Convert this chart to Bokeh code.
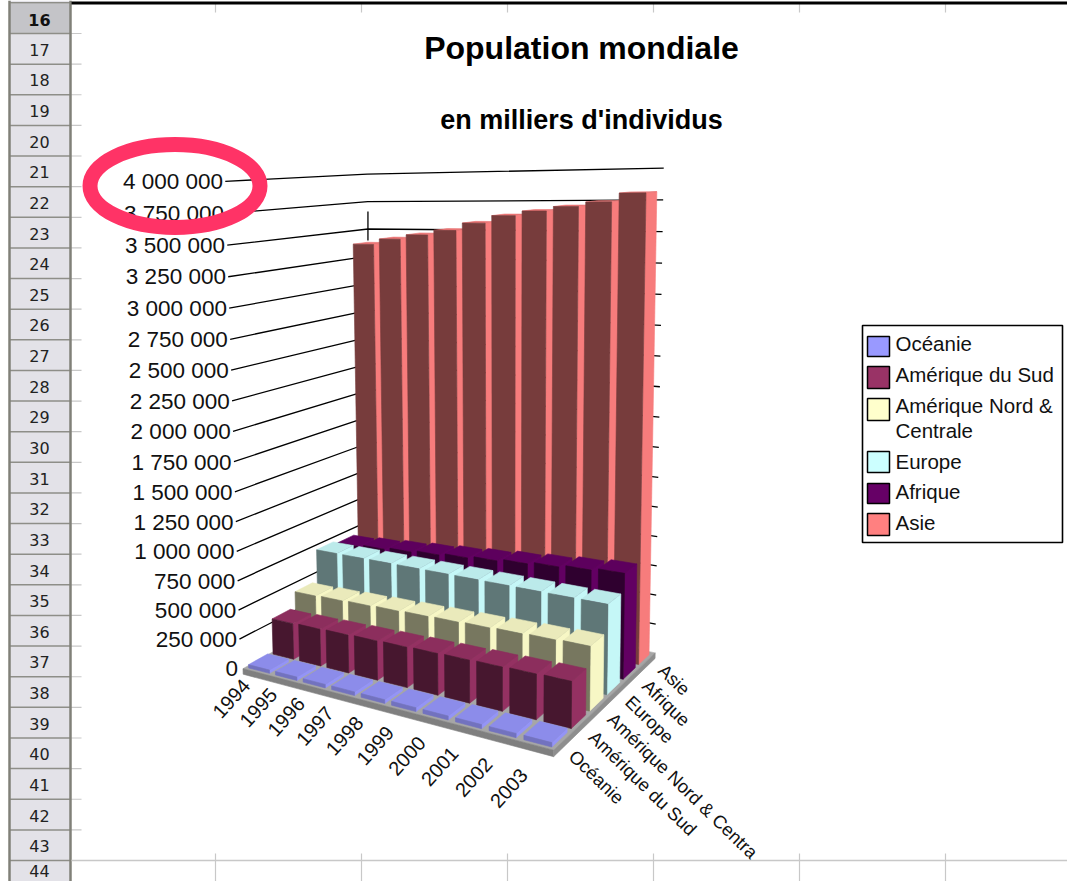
import numpy as np
from bokeh.plotting import figure
from bokeh.models import Range1d, ColumnDataSource
from bokeh.core.properties import value
from bokeh.embed import file_html
from bokeh.resources import INLINE

# ---------- data (thousands of people) ----------
years = ["1994","1995","1996","1997","1998","1999","2000","2001","2002","2003"]
series = ["Océanie","Amérique du Sud","Amérique Nord & Centrale","Europe","Afrique","Asie"]
axis_series_labels = ["Océanie","Amérique du Sud","Amérique Nord & Centra","Europe","Afrique","Asie"]
oceanie  = [28,29,29,30,30,31,31,32,32,33]
am_sud   = [312,318,323,329,334,340,345,350,356,361]
am_nord  = [447,454,461,468,475,481,488,495,502,509]
europe   = [728,728,729,729,729,729,728,727,726,726]
afrique  = [700,717,735,753,772,791,811,831,851,871]
asie     = [3383,3433,3473,3514,3578,3641,3679,3715,3750,3818]
values = [oceanie, am_sud, am_nord, europe, afrique, asie]
colors = ["#9999FF","#993366","#FFFFCC","#CCFFFF","#660066","#FF8080"]
tick_values = list(range(0, 4000001, 250000))
tick_labels = ["0","250 000","500 000","750 000","1 000 000","1 250 000","1 500 000","1 750 000",
               "2 000 000","2 250 000","2 500 000","2 750 000","3 000 000","3 250 000","3 500 000",
               "3 750 000","4 000 000"]
row_labels = [str(i) for i in range(16, 45)]
ZMAX = 4000000.0

# ---------- projection of the chart box on the page ----------
world = [(0,0,0),(0,0,1),(1,0,0),(1,1,0),(1,1,1),(0,1,0),(0,1,1)]
image = [(245,666),(225,181),(553,752),(656,650),(662,168),(370,597),(370,173)]
A, b = [], []
for (u,v,w),(x,y) in zip(world,image):
    A.append([u,v,w,1,0,0,0,0,-x*u,-x*v,-x*w]); b.append(x)
    A.append([0,0,0,0,u,v,w,1,-y*u,-y*v,-y*w]); b.append(y)
m = np.linalg.lstsq(np.array(A,float),np.array(b,float),rcond=None)[0]
P = np.append(m,1.0).reshape(3,4)
def proj(u,v,w):
    q = P @ np.array([u,v,w,1.0])
    return q[0]/q[2], q[1]/q[2]

def shade(c,f):
    r,g,bb = int(c[1:3],16),int(c[3:5],16),int(c[5:7],16)
    return "#%02x%02x%02x"%(int(r*f),int(g*f),int(bb*f))

p = figure(width=1067, height=881, output_backend="svg", toolbar_location=None,
           x_range=Range1d(0,1067), y_range=Range1d(881,0),
           x_axis_location=None, y_axis_location=None, min_border=0,
           outline_line_color=None, background_fill_color="white")
p.grid.visible = False
FONT = value("Liberation Sans")

# ---------- spreadsheet frame ----------
row_h = 30.63
ys = [33 + row_h*(i-1) for i in range(len(row_labels)+1)]
p.quad(left=9,right=70,top=[0],bottom=[881],fill_color="#E3E2E8",line_color=None)
p.quad(left=9,right=70,top=[3],bottom=[33],fill_color="#C4C4C8",line_color=None)
p.segment(x0=[9]*len(ys),x1=[70]*len(ys),y0=ys,y1=ys,line_color="#8E8E88",line_width=1.5)
p.segment(x0=[70]*len(ys[:-2]),x1=[81]*len(ys[:-2]),y0=ys[:-2],y1=ys[:-2],line_color="#C8C8C8",line_width=1.2)
p.segment(x0=[9,70],x1=[9,70],y0=[0,0],y1=[881,881],line_color="#808078",line_width=2.5)
yc = [33 + row_h*(i-0.5) + 1 for i in range(len(row_labels))][1:]
yc[-1] = 870
p.text(x=[39]*len(yc),y=yc,text=row_labels[1:],text_align="center",text_baseline="middle",
       text_font=value("DejaVu Sans"),text_font_size="16px",text_color="#222222")
p.text(x=[39],y=[19],text=["16"],text_align="center",text_baseline="middle",
       text_font=value("DejaVu Sans"),text_font_size="16px",text_font_style="bold",text_color="#111111")
cols = [215,361,507,653,799,945]
p.segment(x0=cols,x1=cols,y0=[3]*6,y1=[12]*6,line_color="#C8C8C8",line_width=1.2)
p.segment(x0=cols,x1=cols,y0=[853]*6,y1=[881]*6,line_color="#C8C8C8",line_width=1.2)
p.segment(x0=[71],x1=[1067],y0=[860],y1=[860],line_color="#C8C8C8",line_width=1.5)
p.segment(x0=[71],x1=[1067],y0=[2.5],y1=[2.5],line_color="#000000",line_width=3)

# ---------- titles ----------
p.text(x=[581],y=[47],text=["Population mondiale"],text_align="center",text_baseline="middle",
       text_font=FONT,text_font_size="32px",text_font_style="bold",text_color="#000000")
p.text(x=[581],y=[119],text=["en milliers d'individus"],text_align="center",text_baseline="middle",
       text_font=FONT,text_font_size="27px",text_font_style="bold",text_color="#000000")

# ---------- gridlines, tick labels ----------
gx, gy = [], []
lx, ly = [], []
for t in tick_values[1:]:
    w = t/ZMAX
    pts = [proj(-0.01,0,w), proj(0,1,w), proj(1.0,1,w)]
    gx.append([q[0] for q in pts]); gy.append([q[1] for q in pts])
for t in tick_values:
    x,y = proj(0,0,t/ZMAX)
    lx.append(x-5); ly.append(y)
p.multi_line(xs=gx,ys=gy,line_color="#000000",line_width=1.3)
cx = proj(0,1,0.9)[0]
p.segment(x0=[cx],x1=[cx],y0=[240],y1=[211],line_color="#000000",line_width=1.3)
p.text(x=lx,y=ly,text=tick_labels,text_align="right",text_baseline="middle",
       text_font=FONT,text_font_size="22.5px",text_color="#111111")

# ---------- floor ----------
DROP = -0.012
fl = [proj(0,0,0),proj(1,0,0),proj(1,1,0),proj(0,1,0)]
band1 = [proj(0,0,0),proj(1,0,0),proj(1,0,DROP),proj(0,0,DROP)]
band2 = [proj(1,0,0),proj(1,1,0),proj(1,1,DROP),proj(1,0,DROP)]
polys_x,polys_y,polys_c = [],[],[]
for poly,c in [(fl,"#A6A6A6"),(band1,"#7F7F7F"),(band2,"#8E8E8E")]:
    polys_x.append([q[0] for q in poly]); polys_y.append([q[1] for q in poly]); polys_c.append(c)

# ---------- 3D bars, painted back to front ----------
FRAC = 0.78
nu, nv = len(years), len(series)
for j in range(nv-1,-1,-1):
    v0 = (j + (1-FRAC)/2)/nv
    v1 = (j + (1+FRAC)/2)/nv - (0.012 if j == nv-1 else 0)
    front_f = 0.75 if j == 0 else 0.47
    for i in range(nu):
        u0 = (i + (1-FRAC)/2)/nu
        u1 = (i + (1+FRAC)/2)/nu
        w = values[j][i]*1000/ZMAX
        c = colors[j]
        top   = [proj(u0,v0,w),proj(u1,v0,w),proj(u1,v1,w),proj(u0,v1,w)]
        side  = [proj(u1,v0,0),proj(u1,v1,0),proj(u1,v1,w),proj(u1,v0,w)]
        front = [proj(u0,v0,0),proj(u1,v0,0),proj(u1,v0,w),proj(u0,v0,w)]
        for poly,col in [(side,shade(c,0.97)),(top,shade(c,0.92)),(front,shade(c,front_f))]:
            polys_x.append([q[0] for q in poly]); polys_y.append([q[1] for q in poly]); polys_c.append(col)
src = ColumnDataSource(dict(xs=polys_x,ys=polys_y,c=polys_c))
p.patches(xs="xs",ys="ys",fill_color="c",line_color="c",line_width=0.6,source=src)

# ---------- category labels ----------
yx,yy = [],[]
for i in range(nu):
    u = (i+0.5)/nu
    x,y = proj(u,0,0)
    yx.append(x-10-2*u); yy.append(y+9+18*u)
p.text(x=yx,y=yy,text=years,text_align="right",text_baseline="middle",angle=np.radians(48),
       text_font=FONT,text_font_size="20px",text_color="#111111")
sx,sy = [],[]
for j in range(nv):
    v = (j+0.5)/nv
    x,y = proj(1,v,0)
    sx.append(x+8+6*v); sy.append(y+13-6*v)
p.text(x=sx,y=sy,text=axis_series_labels,text_align="left",text_baseline="middle",angle=np.radians(-44),
       text_font=FONT,text_font_size="18.3px",text_color="#111111")

# ---------- legend ----------
p.quad(left=862,right=1062,top=[325],bottom=[542],fill_color="white",line_color="#000000",line_width=1.6)
sw_top = [336,366,398,451,483,513]
sw_bot = [356,388,420,472,503,535]
p.quad(left=[867]*6,right=[889]*6,top=sw_top,bottom=sw_bot,fill_color=colors,line_color="#000000",line_width=1.5)
p.text(x=[895]*7,y=[343,374,405,430,461,491,522],
       text=["Océanie","Amérique du Sud","Amérique Nord &","Centrale","Europe","Afrique","Asie"],
       text_align="left",text_baseline="middle",text_font=FONT,text_font_size="20.5px",text_color="#111111")

# ---------- highlight ring ----------
p.ellipse(x=[174.5],y=[185.5],width=[170],height=[83],fill_color=None,line_color="#FF3366",line_width=15)

open("out.html","w").write(file_html(p,INLINE))
